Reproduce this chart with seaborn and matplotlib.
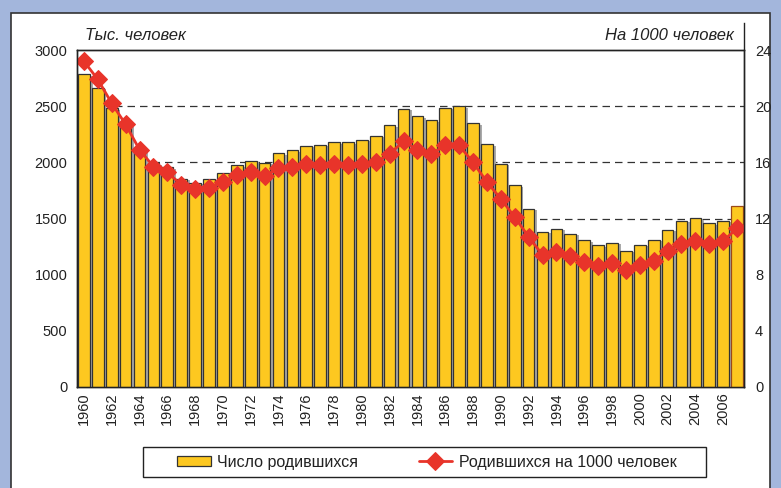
import numpy as np
import pandas as pd
import matplotlib
matplotlib.use("Agg")
import matplotlib.pyplot as plt
import matplotlib.patheffects as pe
from matplotlib.patches import Rectangle
import seaborn as sns

years = list(range(1960, 2008))
births = [2782, 2662, 2482, 2331, 2121, 1991, 1957, 1851, 1817, 1848,
          1904, 1974, 2015, 1995, 2080, 2106, 2147, 2156, 2179, 2179,
          2203, 2237, 2328, 2478, 2410, 2375, 2486, 2500, 2349, 2161,
          1989, 1795, 1588, 1379, 1408, 1364, 1305, 1260, 1283, 1215,
          1267, 1312, 1397, 1477, 1502, 1457, 1480, 1610]
rate = [23.2, 21.9, 20.2, 18.7, 16.9, 15.7, 15.3, 14.4, 14.1, 14.2,
        14.6, 15.1, 15.3, 15.0, 15.6, 15.7, 15.9, 15.8, 15.9, 15.8,
        15.9, 16.0, 16.6, 17.5, 16.9, 16.6, 17.2, 17.2, 16.0, 14.6,
        13.4, 12.1, 10.7, 9.4, 9.6, 9.3, 8.9, 8.6, 8.8, 8.3,
        8.7, 9.0, 9.7, 10.2, 10.4, 10.2, 10.4, 11.3]
left_ticks = [0, 500, 1000, 1500, 2000, 2500, 3000]
right_ticks = [0, 4, 8, 12, 16, 20, 24]

df = pd.DataFrame({"year": years, "births": births, "rate": rate})

sns.set_style("white")
plt.rcParams["font.family"] = ["Liberation Sans", "DejaVu Sans"]
plt.rcParams["text.color"] = "#222222"

fig = plt.figure(figsize=(7.81, 4.88), dpi=100, facecolor="#a3b6dc")
# white panel behind everything
fig.patches.append(Rectangle((11 / 781, -0.01), 759 / 781, (488 - 13) / 488 + 0.01,
                             transform=fig.transFigure, facecolor="white",
                             edgecolor="#333333", lw=1.2, zorder=-10))

ax = fig.add_axes([77 / 781, 101 / 488, 667 / 781, 337 / 488])
ax.set_facecolor("none")

sns.barplot(data=df, x="year", y="births", native_scale=True, width=0.84,
            color="#fdc820", edgecolor="#333333", linewidth=0.9,
            saturation=1, ax=ax, zorder=3)
for p in ax.patches:
    p.set_path_effects([pe.SimplePatchShadow(offset=(2, -1), shadow_rgbFace="#aaaaaa", alpha=1),
                        pe.Normal()])
ax.patches[-1].set_edgecolor("#9b4a1a")

ax.set_ylim(0, 3000)
ax.set_xlim(1959.5, 2007.5)
ax.set_yticks(left_ticks)
ax.set_xticks(years[::2])
ax.set_xticklabels([str(y) for y in years[::2]], rotation=90)
ax.tick_params(axis="y", length=0, labelsize=10.5, colors="#222222", pad=7)
ax.tick_params(axis="x", length=0, labelsize=10.5, colors="#222222", pad=4)
for y in left_ticks[1:-1]:
    ax.axhline(y, color="#333333", lw=0.9, ls=(0, (6, 4)), zorder=1)
for s in ax.spines.values():
    s.set_color("#222222")
    s.set_linewidth(1.0)
ax.set_xlabel("")
ax.set_ylabel("")

ax2 = ax.twinx()
sns.lineplot(data=df, x="year", y="rate", ax=ax2, color="#e8342a", lw=2,
             marker="D", markersize=9.5, markeredgecolor="#e8342a",
             label="Родившихся на 1000 человек", legend=False)
ax2.set_ylim(0, 24)
ax2.set_yticks(right_ticks)
ax2.tick_params(axis="y", length=0, labelsize=10.5, colors="#222222", pad=8)
ax2.set_ylabel("")
ax2.spines["right"].set_bounds(0, 25.9)
for s in ax2.spines.values():
    s.set_color("#222222")
    s.set_linewidth(1.0)

ax.text(0.012, 1.022, "Тыс. человек", transform=ax.transAxes, fontsize=12,
        style="italic", ha="left", va="bottom")
ax.text(0.985, 1.022, "На 1000 человек", transform=ax.transAxes, fontsize=12,
        style="italic", ha="right", va="bottom")

# legend box
fig.patches.append(Rectangle((143 / 781, 1 - 477 / 488), 563 / 781, 30 / 488,
                             transform=fig.transFigure, facecolor="white",
                             edgecolor="#222222", lw=1.0, zorder=1))
bar_handle = Rectangle((0, 0), 1, 1, facecolor="#fdc820", edgecolor="#333333", lw=0.9)
h2, l2 = ax2.get_legend_handles_labels()
leg = fig.legend([bar_handle] + h2, ["Число родившихся"] + l2, loc="center left", ncol=2,
                 bbox_to_anchor=(177 / 781, 1 - 462 / 488), fontsize=11.5,
                 frameon=False, handlelength=2.1, handleheight=0.6,
                 columnspacing=3.8, borderpad=0, handletextpad=0.4, borderaxespad=0)
leg.set_zorder(2)
for t in leg.get_texts():
    t.set_color("#222222")

fig.savefig("out.png", dpi=100, facecolor=fig.get_facecolor())
